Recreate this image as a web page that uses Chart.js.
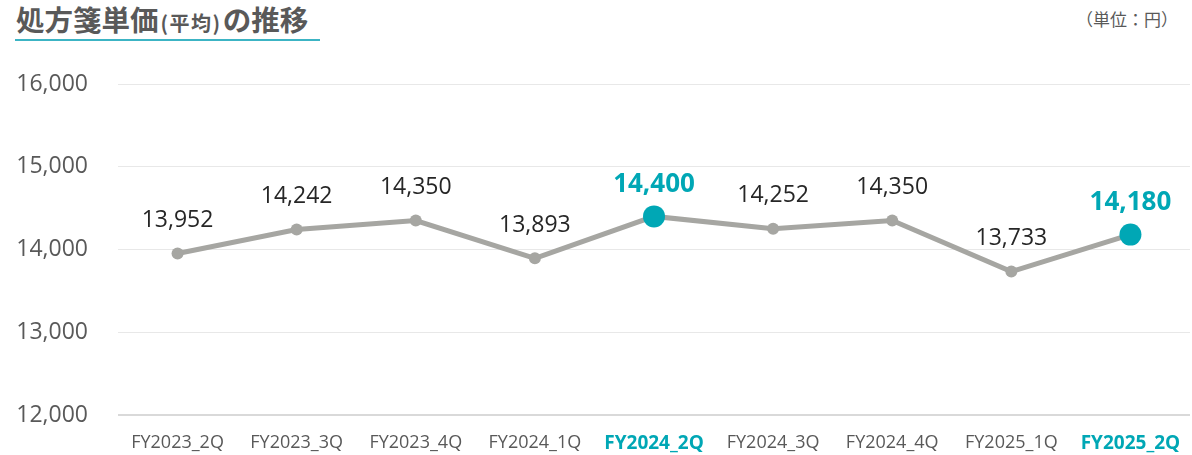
<!DOCTYPE html>
<html>
<head>
<meta charset="utf-8">
<script src="https://cdn.jsdelivr.net/npm/chart.js@4/dist/chart.umd.min.js"></script>
<style>
  html, body { margin: 0; padding: 0; background: #fff; }
  body { width: 1192px; height: 455px; position: relative; overflow: hidden; }
  #title {
    position: absolute; left: 16px; top: 1px;
    font-family: "Noto Sans CJK JP", sans-serif; font-weight: bold;
    font-size: 28.5px; color: #595959; line-height: 36px; white-space: nowrap;
  }
  #title small { font-size: 20px; font-weight: bold; margin: 0 1px 0 2px; letter-spacing: 1.5px; }
  #underline { position: absolute; left: 15px; top: 39px; width: 305px; height: 2px; background: #3CB4C4; }
  #unit {
    position: absolute; right: 14px; top: 6px;
    font-family: "Noto Sans CJK JP", sans-serif; font-size: 17px; color: #595959;
  }
  #wrap { position: absolute; left: 0; top: 0; width: 1192px; height: 455px; }
</style>
</head>
<body>
<div id="title">処方箋単価<small>(平均)</small>の推移</div>
<div id="underline"></div>
<div id="unit">（単位：円）</div>
<div id="wrap"><canvas id="chart"></canvas></div>
<script>
// quarters shown on the x axis
var categories = ['FY2023_2Q', 'FY2023_3Q', 'FY2023_4Q', 'FY2024_1Q', 'FY2024_2Q',
                  'FY2024_3Q', 'FY2024_4Q', 'FY2025_1Q', 'FY2025_2Q'];
// average prescription price (yen)
var prices = [13952, 14242, 14350, 13893, 14400, 14252, 14350, 13733, 14180];
// quarters that are emphasised in teal
var highlighted = ['FY2024_2Q', 'FY2025_2Q'];
var yTicks = [12000, 13000, 14000, 15000, 16000];

var TEAL = '#00A7B5';
var GREY = '#A6A6A2';
var FONT = '"Open Sans", "Noto Sans", sans-serif';

function isHi(i) { return highlighted.indexOf(categories[i]) !== -1; }

// draw the value above every point
var valueLabels = {
  id: 'valueLabels',
  afterDatasetsDraw: function (chart) {
    var ctx = chart.ctx;
    var meta = chart.getDatasetMeta(0);
    ctx.save();
    ctx.textAlign = 'center';
    ctx.textBaseline = 'middle';
    meta.data.forEach(function (pt, i) {
      var hi = isHi(i);
      ctx.font = (hi ? 'bold 26px ' : '23px ') + FONT;
      ctx.fillStyle = hi ? TEAL : '#262626';
      ctx.fillText(prices[i].toLocaleString('en-US'), pt.x, pt.y - (hi ? 32 : 33));
    });
    ctx.restore();
  }
};

function noPad(s) { s.paddingLeft = 0; s.paddingRight = 0; s.paddingTop = 0; s.paddingBottom = 0; }

var ctx = document.getElementById('chart').getContext('2d');
new Chart(ctx, {
  type: 'line',
  data: {
    labels: categories,
    datasets: [{
      data: prices,
      borderColor: GREY,
      borderWidth: 5,
      tension: 0,
      clip: false,
      pointRadius: prices.map(function (v, i) { return isHi(i) ? 11 : 6; }),
      pointBackgroundColor: prices.map(function (v, i) { return isHi(i) ? TEAL : GREY; }),
      pointBorderWidth: 0,
      pointHoverRadius: prices.map(function (v, i) { return isHi(i) ? 11 : 6; })
    }]
  },
  options: {
    responsive: true,
    maintainAspectRatio: false,
    animation: false,
    layout: { autoPadding: false, padding: { top: 84, right: 2, left: 0, bottom: 0 } },
    plugins: { legend: { display: false }, tooltip: { enabled: false } },
    scales: {
      x: {
        offset: true,
        grid: { display: false, drawTicks: false },
        border: { display: false },
        afterFit: function (s) { s.height = 40; noPad(s); },
        ticks: {
          padding: 17,
          maxRotation: 0,
          autoSkip: false,
          color: function (c) { return isHi(c.index) ? TEAL : '#595959'; },
          font: function (c) {
            return { family: FONT, size: isHi(c.index) ? 19 : 18, weight: isHi(c.index) ? 'bold' : 'normal' };
          }
        }
      },
      y: {
        min: yTicks[0],
        max: yTicks[yTicks.length - 1],
        afterBuildTicks: function (s) { s.ticks = yTicks.map(function (v) { return { value: v }; }); },
        afterFit: function (s) { s.width = 118; noPad(s); },
        grid: {
          drawTicks: false,
          color: function (c) { return c.tick.value === yTicks[0] ? '#D9D9D9' : '#E8E8E8'; },
          lineWidth: function (c) { return c.tick.value === yTicks[0] ? 2 : 1; }
        },
        border: { display: false },
        ticks: {
          padding: 30,
          color: '#595959',
          font: { family: FONT, size: 23 },
          callback: function (v) { return v.toLocaleString('en-US'); }
        }
      }
    }
  },
  plugins: [valueLabels]
});
</script>
</body>
</html>
